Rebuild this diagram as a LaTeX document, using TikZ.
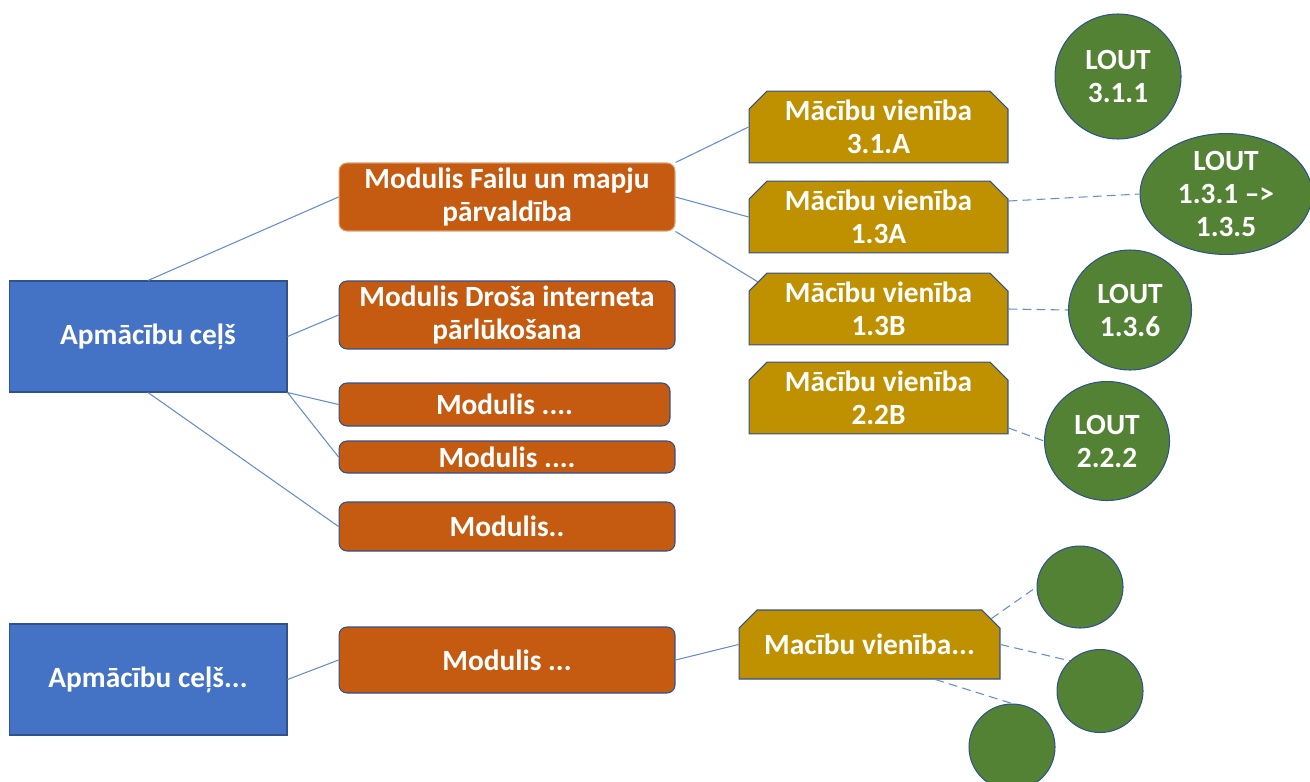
\documentclass[tikz,border=0pt]{standalone}
\usepackage{fontspec}
\setmainfont{Carlito}
\usepackage{tikz}
\usetikzlibrary{calc,shapes.misc,shapes.geometric}

\definecolor{trackblue}{RGB}{68,114,196}
\definecolor{modorange}{RGB}{197,90,17}
\definecolor{unitgold}{RGB}{191,144,0}
\definecolor{loutgreen}{RGB}{84,130,53}
\definecolor{rimblue}{RGB}{47,82,143}
\definecolor{linkblue}{RGB}{100,140,210}

\tikzset{
	label box/.style={text=white,font=\bfseries\fontsize{16.7}{18.8}\selectfont,align=center,inner sep=0pt,line width=0.6pt},
	track/.style={label box,draw=rimblue,fill=trackblue,minimum width=5.56cm,minimum height=2.22cm},
	modbox/.style={label box,draw=rimblue,fill=modorange,rounded corners=0.16cm,minimum width=6.72cm},
	unitbox/.style={label box,draw=rimblue,fill=unitgold,chamfered rectangle,chamfered rectangle corners={north west,north east},chamfered rectangle sep=0.18cm,minimum width=5.18cm,minimum height=1.36cm},
	lout/.style={label box,draw=rimblue,fill=loutgreen,ellipse},
	link/.style={draw=linkblue,line width=0.6pt},
	dlink/.style={link,dash pattern=on 5pt off 3pt}
}

\begin{document}
\begin{tikzpicture}[x=0.02cm,y=-0.02cm]
		\useasboundingbox (0,0) rectangle (1310,781);
		\node[track] (t1) at (148,336.5) {Apmācību ceļš};
		\node[track] (t2) at (148,679.5) {Apmācību ceļš...};
		\node[modbox,draw=modorange!60!white,minimum height=1.36cm] (m1) at (507,197) {Modulis Failu un mapju\\pārvaldība};
		\node[modbox,minimum height=1.36cm] (m2) at (507,315) {Modulis Droša interneta\\pārlūkošana};
		\node[modbox,minimum width=6.62cm,minimum height=0.86cm] (m3) at (504.5,404.5) {Modulis ....};
		\node[modbox,minimum height=0.64cm] (m4) at (507,457) {Modulis ....};
		\node[modbox,minimum height=0.98cm] (m5) at (507,526.5) {Modulis..};
		\node[modbox,minimum height=1.32cm] (m6) at (507,660) {Modulis ...};
		\node[unitbox] (u1) at (878.5,127) {Mācību vienība\\3.1.A};
		\node[unitbox] (u2) at (878.5,217) {Mācību vienība\\1.3A};
		\node[unitbox] (u3) at (878.5,309) {Mācību vienība\\1.3B};
		\node[unitbox] (u4) at (878.5,398) {Mācību vienība\\2.2B};
		\node[unitbox,minimum width=5.22cm,minimum height=1.38cm] (u5) at (869.5,644.5) {Macību vienība...};
		\node[lout,minimum width=2.52cm,minimum height=2.5cm] (c1) at (1118,76.5) {LOUT\\3.1.1};
		\node[lout,minimum width=3.44cm,minimum height=2.36cm] (c2) at (1226,194) {LOUT\\1.3.1 –>\\1.3.5};
		\node[lout,minimum width=2.46cm,minimum height=2.4cm] (c3) at (1130,310) {LOUT\\1.3.6};
		\node[lout,minimum width=2.5cm,minimum height=2.38cm] (c4) at (1107,441) {LOUT\\2.2.2};
		\node[lout,minimum width=1.72cm,minimum height=1.64cm] (c5) at (1080,587) {};
		\node[lout,minimum width=1.72cm,minimum height=1.66cm] (c6) at (1100,691) {};
		\node[lout,minimum width=1.72cm,minimum height=1.72cm] (c7) at (1012,747) {};
		\draw[link]
			(t1.north) -- (m1.west)
			(t1.east) -- (m2.west)
			(t1.south east) -- (m3.west)
			(t1.south east) -- (m4.west)
			(t1.south) -- (m5.west)
			(m1.north east) -- (u1.west)
			(m1.east) -- (u2.west)
			(m1.south east) -- (u3.north west)
			(t2.east) -- (m6.west)
			(m6.east) -- (u5.west);
		\draw[dlink]
			(u2.7) -- (c2.west)
			(u3.east) -- (c3.west)
			(u4.-13) -- (c4.west)
			(u5.north east) -- (c5.west)
			(u5.east) -- (c6.135)
			(u5.-28) -- (c7.north);
\end{tikzpicture}
\end{document}
